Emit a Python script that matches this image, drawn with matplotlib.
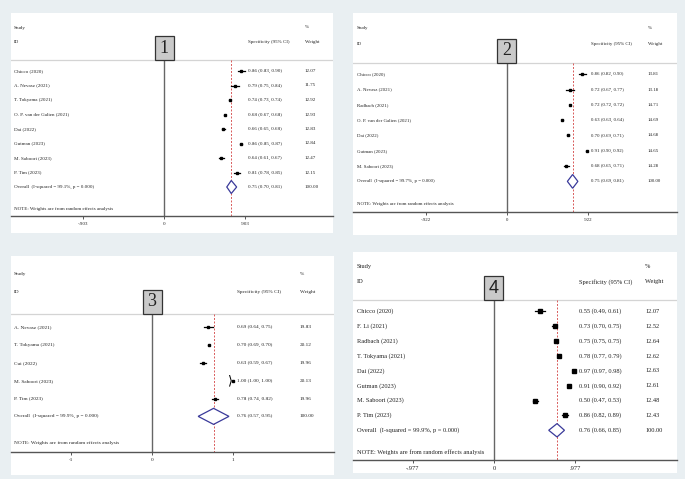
import matplotlib
matplotlib.use('Agg')
import matplotlib.pyplot as plt
from matplotlib.patches import Rectangle, Polygon

plt.rcParams['font.family'] = ['Liberation Serif', 'DejaVu Serif']

## panel 1
p1_study = ['Chicco (2020)', 'A. Nevasz (2021)', 'T. Tokyama (2021)',
            'O. P. van der Galien (2021)', 'Dai (2022)', 'Gutman (2023)',
            'M. Saboori (2023)', 'P. Tim (2023)']
p1_es = [0.86, 0.79, 0.74, 0.68, 0.66, 0.86, 0.64, 0.81]
p1_lo = [0.83, 0.75, 0.73, 0.67, 0.65, 0.85, 0.61, 0.78]
p1_hi = [0.90, 0.84, 0.74, 0.68, 0.68, 0.87, 0.67, 0.85]
p1_wt = [12.07, 11.75, 12.92, 12.93, 12.83, 12.84, 12.47, 12.15]
p1_overall = [0.75, 0.70, 0.81]
p1_i2 = 99.1
p1_tick = 0.903

## panel 2
p2_study = ['Chicco (2020)', 'A. Nevasz (2021)', 'Radbach (2021)',
            'O. P. van der Galien (2021)', 'Dai (2022)', 'Gutman (2023)',
            'M. Saboori (2023)']
p2_es = [0.86, 0.72, 0.72, 0.63, 0.70, 0.91, 0.68]
p2_lo = [0.82, 0.67, 0.72, 0.63, 0.69, 0.90, 0.65]
p2_hi = [0.90, 0.77, 0.72, 0.64, 0.71, 0.92, 0.71]
p2_wt = [13.81, 13.18, 14.71, 14.69, 14.68, 14.65, 14.28]
p2_overall = [0.75, 0.69, 0.81]
p2_i2 = 99.7
p2_tick = 0.922

## panel 3
p3_study = ['A. Nevasz (2021)', 'T. Tokyama (2021)', 'Cui (2022)',
            'M. Saboori (2023)', 'P. Tim (2023)']
p3_es = [0.69, 0.70, 0.63, 1.00, 0.78]
p3_lo = [0.64, 0.69, 0.59, 1.00, 0.74]
p3_hi = [0.75, 0.70, 0.67, 1.00, 0.82]
p3_wt = [19.83, 20.12, 19.96, 20.13, 19.96]
p3_overall = [0.76, 0.57, 0.95]
p3_i2 = 99.9
p3_tick = 1

## panel 4
p4_study = ['Chicco (2020)', 'F. Li (2021)', 'Radbach (2021)', 'T. Tokyama (2021)',
            'Dai (2022)', 'Gutman (2023)', 'M. Saboori (2023)', 'P. Tim (2023)']
p4_es = [0.55, 0.73, 0.75, 0.78, 0.97, 0.91, 0.50, 0.86]
p4_lo = [0.49, 0.70, 0.75, 0.77, 0.97, 0.90, 0.47, 0.82]
p4_hi = [0.61, 0.75, 0.75, 0.79, 0.98, 0.92, 0.53, 0.89]
p4_wt = [12.07, 12.52, 12.64, 12.62, 12.63, 12.61, 12.48, 12.43]
p4_overall = [0.76, 0.66, 0.85]
p4_i2 = 99.9
p4_tick = 0.977

W, H = 685, 479
fig = plt.figure(figsize=(W / 100, H / 100), dpi=100)
fig.patch.set_facecolor('#e9eff2')


def fmt_tick(v):
    if float(v).is_integer():
        return str(int(v))
    return ('%.3f' % v).lstrip('0')


def forest(box, axis_y, zero, ppu, est_x, wt_x, left_x, fs, ms, tag, tag_family,
           study, es, lo, hi, wt, overall, i2, tick):
    l, t, r, b = box
    fig.add_artist(Rectangle((l / W, 1 - b / H), (r - l) / W, (b - t) / H,
                             transform=fig.transFigure, fc='white', ec='none', zorder=-1))
    ax = fig.add_axes([l / W, 1 - axis_y / H, (r - l) / W, (axis_y - t) / H])
    ax.patch.set_alpha(0)
    n = len(study)
    ax.set_xlim((l - zero) / ppu, (r - zero) / ppu)
    ax.set_ylim(n + 2, -4)
    spacing = (axis_y - t) / (n + 6)

    ex = (est_x - zero) / ppu
    wx = (wt_x - zero) / ppu
    lx = (left_x - zero) / ppu
    tc = '#222222'
    kw = dict(fontsize=fs, color=tc, va='center', ha='left')

    # header
    ax.text(lx, -3, 'Study', **kw)
    ax.text(lx, -2, 'ID', **kw)
    ax.text(ex, -2, 'Specificity (95% CI)', **kw)
    ax.text(wx, -3, '%', **kw)
    ax.text(wx, -2, 'Weight', **kw)
    ax.axhline(-0.75, color='#d4d4d4', lw=0.9)

    # reference lines
    ax.plot([0, 0], [-0.75, n + 2], color='#666666', lw=1.0, zorder=2)
    ax.plot([overall[0]] * 2, [-0.75, n + 2], color='#d85a5a', lw=0.7,
            dashes=(2, 1.6), zorder=2)

    # studies
    for i in range(n):
        ax.text(lx, i, study[i], **kw)
        ax.plot([lo[i], hi[i]], [i, i], color='black', lw=0.9, zorder=3)
        ax.plot(es[i], i, marker='s', ms=ms, color='black', zorder=4)
        if lo[i] >= 1.0:
            # CI capped at the upper limit
            ax.annotate(r'$\rangle$', (es[i], i), xytext=(-0.5, -0.6),
                        textcoords='offset points', ha='right', va='center',
                        fontsize=9, color='black')
        ax.text(ex, i, '%.2f (%.2f, %.2f)' % (es[i], lo[i], hi[i]), **kw)
        ax.text(wx, i, '%.2f' % wt[i], **kw)

    # overall
    e0, l0, h0 = overall
    ax.text(lx, n, 'Overall  (I-squared = %.1f%%, p = 0.000)' % i2, **kw)
    ax.add_patch(Polygon([(l0, n), (e0, n - 0.45), (h0, n), (e0, n + 0.45)],
                         closed=True, fc='white', ec='#3a3a9a', lw=0.9, zorder=5))
    ax.text(ex, n, '%.2f (%.2f, %.2f)' % (e0, l0, h0), **kw)
    ax.text(wx, n, '100.00', **kw)
    ax.text(lx, n + 1.5, 'NOTE: Weights are from random effects analysis', **kw)

    # panel tag box
    bw = 19 / ppu
    bh = 24 / spacing
    ax.add_patch(Rectangle((-bw / 2, -0.75 - bh), bw, bh, fc='#c9c9c9',
                           ec='#333333', lw=0.9, zorder=6))
    ax.text(0, -0.75 - bh / 2, tag, fontsize=13, ha='center', va='center',
            family=tag_family, color='#222222', zorder=7)

    # axis
    for s in ['top', 'left', 'right']:
        ax.spines[s].set_visible(False)
    ax.spines['bottom'].set_color('#555555')
    ax.spines['bottom'].set_linewidth(1.0)
    ax.set_yticks([])
    ax.set_xticks([-tick, 0, tick])
    ax.set_xticklabels(['-' + fmt_tick(tick), '0', fmt_tick(tick)])
    ax.tick_params(axis='x', length=2.5, width=0.7, color='#555555',
                   labelsize=fs, labelcolor=tc, pad=1.5)
    return ax


forest((11, 13, 333, 233), 216, 164, 89.7, 248, 305, 14, 3.6, 2.0, '1',
       ['Liberation Serif'], p1_study, p1_es, p1_lo, p1_hi, p1_wt,
       p1_overall, p1_i2, p1_tick)
forest((353, 13, 677, 235), 212, 507, 87.5, 591, 648, 357, 3.5, 2.0, '2',
       ['Liberation Serif'], p2_study, p2_es, p2_lo, p2_hi, p2_wt,
       p2_overall, p2_i2, p2_tick)
forest((11, 256, 334, 475), 452, 152, 81.0, 237, 300, 14, 3.8, 2.0, '3',
       ['Liberation Serif'], p3_study, p3_es, p3_lo, p3_hi, p3_wt,
       p3_overall, p3_i2, p3_tick)
forest((353, 252, 677, 473), 460, 494, 82.9, 579, 645, 357, 4.6, 2.2, '4',
       ['Liberation Sans'], p4_study, p4_es, p4_lo, p4_hi, p4_wt,
       p4_overall, p4_i2, p4_tick)

plt.savefig('out.png', dpi=100, facecolor=fig.get_facecolor())
